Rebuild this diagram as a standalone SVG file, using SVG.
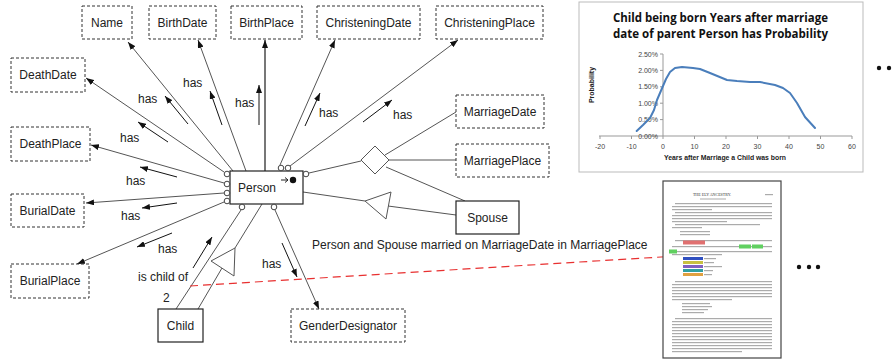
<svg xmlns="http://www.w3.org/2000/svg" width="894" height="360" viewBox="0 0 894 360">
<defs>
<style>
.attr rect{fill:#fff;stroke:#333;stroke-width:1;stroke-dasharray:3,2}
.ent rect{fill:#fff;stroke:#222;stroke-width:1.2}
.lbl{font-family:"Liberation Sans",Arial,sans-serif;font-size:12px;fill:#222}
.c{text-anchor:middle}
.ln{stroke:#555;stroke-width:1;fill:none}
.la{stroke:#111;stroke-width:1;fill:none}
.port{fill:#fff;stroke:#444;stroke-width:1}
.ax{font-family:"Liberation Sans",Arial,sans-serif;font-size:7px;fill:#444}
.pl{fill:#666;opacity:.55}
.ttl{font-family:"Open Sans","Liberation Sans",sans-serif;font-weight:bold;font-size:12px;fill:#111}
</style>
<marker id="ah" viewBox="0 0 8 6" refX="8" refY="3" markerWidth="8" markerHeight="6" markerUnits="userSpaceOnUse" orient="auto"><path d="M0,0 L8,3 L0,6 z" fill="#111"/></marker>
</defs>
<rect width="894" height="360" fill="#fff"/>

<g id="connectors">
<line class="ln" x1="233" y1="171" x2="128" y2="42" marker-end="url(#ah)"/>
<line class="ln" x1="246" y1="171" x2="198" y2="40" marker-end="url(#ah)"/>
<line x1="265" y1="171" x2="265" y2="40" stroke="#777" stroke-width="2" marker-end="url(#ah)"/>
<line class="ln" x1="280" y1="165" x2="335" y2="40" marker-end="url(#ah)"/>
<line class="ln" x1="290" y1="166" x2="458" y2="40" marker-end="url(#ah)"/>
<line class="ln" x1="224" y1="172" x2="86" y2="78" marker-end="url(#ah)"/>
<line class="ln" x1="224" y1="183" x2="91" y2="145" marker-end="url(#ah)"/>
<line class="ln" x1="224" y1="193" x2="86" y2="203" marker-end="url(#ah)"/>
<line class="ln" x1="224" y1="202" x2="77" y2="264" marker-end="url(#ah)"/>
<line class="ln" x1="275" y1="210" x2="319" y2="309" marker-end="url(#ah)"/>
<line class="ln" x1="241" y1="210" x2="176" y2="309"/>
<line class="ln" x1="262" y1="204" x2="235" y2="248"/>
<line class="ln" x1="198" y1="309" x2="222" y2="268"/>
<line class="ln" x1="309" y1="173" x2="361" y2="161"/>
<line class="ln" x1="385" y1="155" x2="456" y2="112"/>
<line class="ln" x1="389" y1="160" x2="456" y2="160"/>
<line class="ln" x1="386" y1="167" x2="465" y2="201"/>
<line class="ln" x1="303" y1="192" x2="365" y2="201"/>
<line class="ln" x1="456" y1="215" x2="388" y2="206"/>
<line x1="190" y1="286" x2="677" y2="256" stroke="#e83030" stroke-width="1.2" stroke-dasharray="8,5"/>
<polygon points="361,160 375,146 389,160 375,174" fill="#fff" stroke="#555" stroke-width="1"/>
<polygon points="365,201 391,192 386,219" fill="#fff" stroke="#555" stroke-width="1"/>
<polygon points="211,261 235,248 234,276" fill="#fff" stroke="#555" stroke-width="1"/>
<line class="la" x1="188" y1="124" x2="165" y2="96" marker-end="url(#ah)"/>
<line class="la" x1="222" y1="125" x2="210" y2="91" marker-end="url(#ah)"/>
<line class="la" x1="259" y1="125" x2="259" y2="85" marker-end="url(#ah)"/>
<line class="la" x1="305" y1="126" x2="320" y2="93" marker-end="url(#ah)"/>
<line class="la" x1="363" y1="122" x2="392" y2="100" marker-end="url(#ah)"/>
<line class="la" x1="168" y1="142" x2="138" y2="122" marker-end="url(#ah)"/>
<line class="la" x1="177" y1="177" x2="140" y2="167" marker-end="url(#ah)"/>
<line class="la" x1="177" y1="203" x2="142" y2="208" marker-end="url(#ah)"/>
<line class="la" x1="172" y1="233" x2="137" y2="247" marker-end="url(#ah)"/>
<line class="la" x1="193" y1="268" x2="212" y2="237" marker-end="url(#ah)"/>
<line class="la" x1="282" y1="243" x2="297" y2="277" marker-end="url(#ah)"/>
<g class="lbl">
<text x="138" y="103">has</text>
<text x="183" y="87">has</text>
<text x="235" y="107">has</text>
<text x="319" y="117">has</text>
<text x="393" y="119">has</text>
<text x="120" y="142">has</text>
<text x="126" y="185">has</text>
<text x="121" y="220">has</text>
<text x="158" y="253">has</text>
<text x="262" y="268">has</text>
<text x="138" y="281">is child of</text>
<text x="163" y="302">2</text>
<text x="312" y="249">Person and Spouse married on MarriageDate in MarriagePlace</text>
</g>
</g>

<g id="Name" class="attr"><rect x="82" y="6" width="50" height="33"/><text class="lbl c" x="107" y="27">Name</text></g>
<g id="BirthDate" class="attr"><rect x="149" y="6" width="67" height="33"/><text class="lbl c" x="182.5" y="27">BirthDate</text></g>
<g id="BirthPlace" class="attr"><rect x="231" y="6" width="71" height="33"/><text class="lbl c" x="266.5" y="27">BirthPlace</text></g>
<g id="ChristeningDate" class="attr"><rect x="317" y="6" width="103" height="33"/><text class="lbl c" x="368.5" y="27">ChristeningDate</text></g>
<g id="ChristeningPlace" class="attr"><rect x="436" y="6" width="107" height="33"/><text class="lbl c" x="489.5" y="27">ChristeningPlace</text></g>
<g id="DeathDate" class="attr"><rect x="11" y="58" width="74" height="34"/><text class="lbl c" x="48" y="79">DeathDate</text></g>
<g id="DeathPlace" class="attr"><rect x="11" y="127" width="79" height="34"/><text class="lbl c" x="50.5" y="148">DeathPlace</text></g>
<g id="BurialDate" class="attr"><rect x="11" y="194" width="73" height="33"/><text class="lbl c" x="47.5" y="215">BurialDate</text></g>
<g id="BurialPlace" class="attr"><rect x="11" y="264" width="78" height="34"/><text class="lbl c" x="50" y="285">BurialPlace</text></g>
<g id="MarriageDate" class="attr"><rect x="456" y="95" width="88" height="33"/><text class="lbl c" x="500" y="116">MarriageDate</text></g>
<g id="MarriagePlace" class="attr"><rect x="456" y="144" width="93" height="33"/><text class="lbl c" x="502.5" y="165">MarriagePlace</text></g>
<g id="GenderDesignator" class="attr"><rect x="291" y="309" width="114" height="33"/><text class="lbl c" x="348" y="330">GenderDesignator</text></g>
<g id="Spouse" class="ent"><rect x="456" y="201" width="63" height="33"/><text class="lbl c" x="487.5" y="222">Spouse</text></g>
<g id="Child" class="ent"><rect x="158" y="309" width="45" height="33"/><text class="lbl c" x="180.5" y="330">Child</text></g>

<g id="Person">
<rect x="230" y="171" width="73" height="33" fill="#fff" stroke="#222" stroke-width="1.2"/>
<text class="lbl" x="238" y="192">Person</text>
<line x1="281" y1="180" x2="288" y2="180" stroke="#222" stroke-width="1"/>
<path d="M285,177.5 L288,180 L285,182.5" fill="none" stroke="#222" stroke-width="1"/>
<circle cx="293" cy="180" r="3.2" fill="#111"/>
<circle class="port" cx="227" cy="174" r="2.8"/>
<circle class="port" cx="227" cy="184" r="2.8"/>
<circle class="port" cx="227" cy="193" r="2.8"/>
<circle class="port" cx="227" cy="201" r="2.8"/>
<circle class="port" cx="281" cy="168" r="2.8"/>
<circle class="port" cx="288" cy="168" r="2.8"/>
<circle class="port" cx="306" cy="174" r="2.8"/>
<circle class="port" cx="242" cy="207" r="2.8"/>
<circle class="port" cx="274" cy="207" r="2.8"/>
</g>

<g id="chart">
<rect x="579" y="2" width="284" height="170" fill="#fff" stroke="#bbb" stroke-width="1"/>
<text class="ttl" x="720.5" y="22" text-anchor="middle" textLength="215" lengthAdjust="spacingAndGlyphs">Child being born Years after marriage</text>
<text class="ttl" x="720.5" y="38" text-anchor="middle" textLength="215" lengthAdjust="spacingAndGlyphs">date of parent Person has Probability</text>
<line x1="663" y1="54" x2="663" y2="136" stroke="#999" stroke-width="1"/>
<line x1="599" y1="136" x2="852" y2="136" stroke="#999" stroke-width="1"/>
<g stroke="#999" stroke-width="1">
<line x1="660" y1="54" x2="663" y2="54"/><line x1="660" y1="70.4" x2="663" y2="70.4"/><line x1="660" y1="86.8" x2="663" y2="86.8"/><line x1="660" y1="103.2" x2="663" y2="103.2"/><line x1="660" y1="119.6" x2="663" y2="119.6"/>
<line x1="600" y1="136" x2="600" y2="139"/><line x1="631.5" y1="136" x2="631.5" y2="139"/><line x1="663" y1="136" x2="663" y2="139"/><line x1="694.5" y1="136" x2="694.5" y2="139"/><line x1="726" y1="136" x2="726" y2="139"/><line x1="757.5" y1="136" x2="757.5" y2="139"/><line x1="789" y1="136" x2="789" y2="139"/><line x1="820.5" y1="136" x2="820.5" y2="139"/><line x1="852" y1="136" x2="852" y2="139"/>
</g>
<g class="ax" text-anchor="end">
<text x="658" y="56.5">2.50%</text><text x="658" y="72.9">2.00%</text><text x="658" y="89.3">1.50%</text><text x="658" y="105.7">1.00%</text><text x="658" y="122.1">0.50%</text><text x="658" y="138.5">0.00%</text>
</g>
<g class="ax" text-anchor="middle">
<text x="600" y="149">-20</text><text x="631.5" y="149">-10</text><text x="663" y="149">0</text><text x="694.5" y="149">10</text><text x="726" y="149">20</text><text x="757.5" y="149">30</text><text x="789" y="149">40</text><text x="820.5" y="149">50</text><text x="852" y="149">60</text>
</g>
<text x="725" y="160" text-anchor="middle" font-family="'Liberation Sans',Arial,sans-serif" font-weight="bold" font-size="7.5" fill="#222" textLength="122" lengthAdjust="spacingAndGlyphs">Years after Marriage a Child was born</text>
<text transform="translate(594,85) rotate(-90)" text-anchor="middle" font-family="'Liberation Sans',Arial,sans-serif" font-weight="bold" font-size="7" fill="#222">Probability</text>
<polyline points="636.7,131 643,125 650,118 654,110 657,100 660,93 663,86 666,79 670,72 675,68 682,67 693,68 700,69 710,73 727,80 737,81 750,82 760,82 775,85 783,88 790,93 797,103 805,117 815,128" fill="none" stroke="#4a7ebb" stroke-width="2" stroke-linejoin="round" stroke-linecap="round"/>
</g>
<circle cx="879" cy="68" r="2.2" fill="#111"/>
<circle cx="889" cy="68" r="2.2" fill="#111"/>

<g id="page">
<rect x="663" y="181" width="118" height="177" fill="#fff" stroke="#444" stroke-width="1.2"/>
<text x="712" y="196" text-anchor="middle" font-family="'Liberation Serif',serif" font-size="4" fill="#333">THE ELY ANCESTRY.</text>
<rect class="pl" x="765" y="194" width="8" height="1.2"/>
<rect class="pl" x="700" y="198.5" width="26" height="1"/>
<rect class="pl" x="675" y="203" width="97" height="1.2"/>
<rect class="pl" x="672" y="206" width="100" height="1.2"/>
<rect class="pl" x="672" y="209" width="40" height="1.2"/>
<rect class="pl" x="675" y="212" width="97" height="1.2"/>
<rect class="pl" x="672" y="215" width="100" height="1.2"/>
<rect class="pl" x="672" y="218" width="100" height="1.2"/>
<rect class="pl" x="672" y="221" width="55" height="1.2"/>
<rect class="pl" x="675" y="224" width="85" height="1.2"/>
<rect class="pl" x="672" y="227" width="30" height="1.2"/>
<rect class="pl" x="680" y="231" width="30" height="1.2"/>
<rect class="pl" x="680" y="234" width="30" height="1.2"/>
<rect class="pl" x="675" y="240" width="97" height="1.2"/>
<rect x="683" y="240.5" width="22" height="4" fill="#e07070"/>
<rect class="pl" x="672" y="246" width="100" height="1.2"/>
<rect x="739" y="244.5" width="12" height="4" fill="#60d060"/>
<rect x="752" y="244.5" width="11" height="4" fill="#60d060"/>
<rect class="pl" x="672" y="251" width="100" height="1.2"/>
<rect x="669" y="249.5" width="8" height="4" fill="#60d060"/>
<rect class="pl" x="672" y="254" width="50" height="1.2"/>
<rect x="683" y="257" width="20" height="3" fill="#3050c0"/>
<rect x="683" y="261" width="20" height="3" fill="#c8c040"/>
<rect x="683" y="265" width="20" height="3" fill="#8060c0"/>
<rect x="683" y="269" width="20" height="3" fill="#30a0a0"/>
<rect x="683" y="273" width="20" height="3" fill="#e0a040"/>
<rect class="pl" x="704" y="258" width="12" height="1.2"/>
<rect class="pl" x="704" y="262" width="10" height="1.2"/>
<rect class="pl" x="704" y="266" width="18" height="1.2"/>
<rect class="pl" x="704" y="270" width="9" height="1.2"/>
<rect class="pl" x="704" y="274" width="8" height="1.2"/>
<rect class="pl" x="675" y="281" width="97" height="1.2"/>
<rect class="pl" x="672" y="284" width="100" height="1.2"/>
<rect class="pl" x="672" y="287" width="100" height="1.2"/>
<rect class="pl" x="672" y="290" width="100" height="1.2"/>
<rect class="pl" x="672" y="293" width="100" height="1.2"/>
<rect class="pl" x="672" y="296" width="100" height="1.2"/>
<rect class="pl" x="672" y="299" width="60" height="1.2"/>
<rect class="pl" x="682" y="303" width="28" height="1.2"/>
<rect class="pl" x="682" y="306" width="30" height="1.2"/>
<rect class="pl" x="682" y="309" width="26" height="1.2"/>
<rect class="pl" x="682" y="312" width="22" height="1.2"/>
<rect class="pl" x="675" y="318" width="97" height="1.2"/>
<rect class="pl" x="672" y="321" width="100" height="1.2"/>
<rect class="pl" x="672" y="324" width="100" height="1.2"/>
<rect class="pl" x="672" y="327" width="100" height="1.2"/>
<rect class="pl" x="672" y="330" width="100" height="1.2"/>
<rect class="pl" x="672" y="333" width="100" height="1.2"/>
<rect class="pl" x="672" y="336" width="100" height="1.2"/>
<rect class="pl" x="672" y="339" width="100" height="1.2"/>
<rect class="pl" x="672" y="342" width="100" height="1.2"/>
<rect class="pl" x="672" y="345" width="100" height="1.2"/>
<rect class="pl" x="672" y="348" width="100" height="1.2"/>
<rect class="pl" x="672" y="351" width="70" height="1.2"/>
</g>
<circle cx="799" cy="267" r="2.2" fill="#111"/>
<circle cx="809" cy="267" r="2.2" fill="#111"/>
<circle cx="818" cy="267" r="2.2" fill="#111"/>
</svg>
